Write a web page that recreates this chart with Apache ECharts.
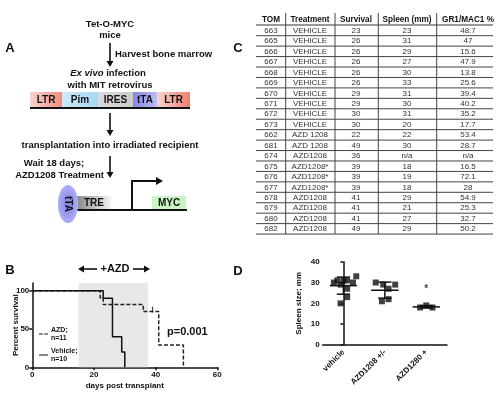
<!DOCTYPE html>
<html>
<head>
<meta charset="utf-8">
<script src="https://cdn.jsdelivr.net/npm/echarts@6/dist/echarts.min.js"></script>
<style>
html, body { margin: 0; padding: 0; background: #fff; }
#main { width: 500px; height: 400px; }
</style>
</head>
<body>
<div id="main"></div>
<script>
// ---- panel C : table ----
var tableHeader = ['TOM', 'Treatment', 'Survival', 'Spleen (mm)', 'GR1/MAC1 %'];
var tomIds = ['663','665','666','667','668','669','670','671','672','673','662','681','674','675','676','677','678','679','680','682'];
var treatments = ['VEHICLE','VEHICLE','VEHICLE','VEHICLE','VEHICLE','VEHICLE','VEHICLE','VEHICLE','VEHICLE','VEHICLE',
  'AZD 1208','AZD 1208','AZD1208','AZD1208*','AZD1208*','AZD1208*','AZD1208','AZD1208','AZD1208','AZD1208'];
var survivalDays = ['23','26','26','26','26','26','29','29','30','30','22','49','36','39','39','39','41','41','41','49'];
var spleenMm = ['23','31','29','27','30','33','31','30','31','20','22','30','n/a','18','19','18','29','21','27','29'];
var gr1Mac1 = ['48.7','47','15.6','47.9','13.8','25.6','39.4','40.2','35.2','17.7','53.4','28.7','n/a','16.5','72.1','28','54.9','25.3','32.7','50.2'];

// ---- panel B : Kaplan-Meier steps [day, percent] ----
var azdSteps = [[0, 100], [22, 90.9], [23, 81.8], [36, 72.7], [41, 29.1], [49, 0]];
var vehicleSteps = [[0, 100], [23, 90], [26, 40], [29, 20], [30, 0]];
var azdCensored = [[39, 72.7]];
var treatWindow = [15, 37.5];
var survivalNames = ['AZD', 'Vehicle'];
var survivalLegend = ['AZD;\nn=11', 'Vehicle;\nn=10'];

// ---- panel D : spleen size ----
var spleenGroups = ['vehicle', 'AZD1208 +/-', 'AZD1280 +'];
var vehicleSpleen = [23, 31, 29, 27, 30, 33, 31, 30, 31, 20];
var partialSpleen = [22, 30, 29, 21, 27, 29];
var fullSpleen = [18, 19, 18];
var vehicleJitter = [0.09, -0.15, -0.07, 0.09, -0.23, 0.31, 0.09, 0.23, 0.0, -0.07];
var partialJitter = [0.09, -0.22, -0.04, -0.07, 0.09, 0.25];
var fullJitter = [-0.15, 0.0, 0.15];
var groupMean = [28.5, 26.3, 18.3];
var groupLow = [24.4, 22.5, 17.8];
var groupHigh = [32.6, 30.2, 18.9];
var sigMarks = [[2, 26.8]];

var FONT = 'Liberation Sans';

function txt(x, y, s, size, opts) {
  opts = opts || {};
  return {
    type: 'text', x: x, y: y, rotation: opts.rotation || 0,
    style: {
      text: s, fontSize: size, fontFamily: FONT,
      fontWeight: opts.weight || 'bold', fill: opts.fill || '#111',
      textAlign: opts.align || 'center', textVerticalAlign: 'middle',
      align: opts.align || 'center', verticalAlign: 'middle',
      rich: opts.rich
    }
  };
}
function downArrow(x, y1, y2) {
  return [
    { type: 'line', shape: { x1: x, y1: y1, x2: x, y2: y2 - 4 }, style: { stroke: '#111', lineWidth: 1.6 } },
    { type: 'polygon', shape: { points: [[x - 3.5, y2 - 6], [x + 3.5, y2 - 6], [x, y2]] }, style: { fill: '#111' } }
  ];
}
function hArrow(x1, x2, y) {
  var d = x2 > x1 ? 1 : -1;
  return [
    { type: 'line', shape: { x1: x1, y1: y, x2: x2 - d * 4, y2: y }, style: { stroke: '#111', lineWidth: 1.6 } },
    { type: 'polygon', shape: { points: [[x2 - d * 6, y - 3.5], [x2 - d * 6, y + 3.5], [x2, y]] }, style: { fill: '#111' } }
  ];
}
function grad(c1, c2) {
  return new echarts.graphic.LinearGradient(0, 0, 1, 0, [{ offset: 0, color: c1 }, { offset: 1, color: c2 }]);
}

var g = [];
// panel letters
g.push(txt(10, 48, 'A', 13));
g.push(txt(238, 48, 'C', 13));
g.push(txt(10, 270, 'B', 13));
g.push(txt(238, 271, 'D', 13));

// panel A diagram
g.push(txt(110, 24, 'Tet-O-MYC', 9.5));
g.push(txt(110, 35, 'mice', 9.5));
g = g.concat(downArrow(110, 43, 67));
g.push(txt(115, 54, 'Harvest bone marrow', 9.5, { align: 'left' }));
g.push(txt(108, 73, '{i|Ex vivo} infection', 9.5, { rich: { i: { fontStyle: 'italic', fontWeight: 'bold', fontSize: 9.5, fontFamily: FONT, fill: '#111' } } }));
g.push(txt(110, 85, 'with MIT retrovirus', 9.5));
var segs = [
  [30, 62, 'LTR', '#f8d4cc', '#ef8f7e'],
  [62, 98, 'Pim', '#cde9f9', '#a6d9f3'],
  [98, 133, 'IRES', '#dadada', '#cbcbcb'],
  [133, 157, 'tTA', '#8686e8', '#bdbdf5'],
  [157, 190, 'LTR', '#f8d4cc', '#ef8070']
];
segs.forEach(function (s) {
  g.push({ type: 'rect', shape: { x: s[0], y: 92, width: s[1] - s[0], height: 15.5 }, style: { fill: grad(s[3], s[4]) } });
  g.push(txt((s[0] + s[1]) / 2, 100, s[2], 10));
});
g.push({ type: 'line', shape: { x1: 30, y1: 108, x2: 190, y2: 108 }, style: { stroke: '#111', lineWidth: 2 } });
g = g.concat(downArrow(110, 113, 136));
g.push(txt(110, 145, 'transplantation into irradiated recipient', 9.5));
g.push(txt(54, 163, 'Wait 18 days;', 9.5));
g.push(txt(59.5, 175, 'AZD1208 Treatment', 9.5));
g = g.concat(downArrow(110, 156, 178));
g.push({ type: 'rect', shape: { x: 77, y: 196, width: 34, height: 13 }, style: { fill: grad('#8a8a8a', '#f4f4f4') } });
g.push(txt(94, 203, 'TRE', 10));
g.push({ type: 'rect', shape: { x: 152, y: 196, width: 34, height: 13 }, style: { fill: '#c9f5c6' } });
g.push(txt(169, 203, 'MYC', 10));
g.push({ type: 'line', shape: { x1: 76, y1: 210, x2: 187, y2: 210 }, style: { stroke: '#111', lineWidth: 2 } });
g.push({ type: 'polyline', shape: { points: [[132, 210], [132, 181], [158, 181]] }, style: { stroke: '#111', lineWidth: 2, fill: null } });
g.push({ type: 'polygon', shape: { points: [[156, 177], [156, 185], [163, 181]] }, style: { fill: '#111' } });
g.push({
  type: 'circle', x: 68, y: 204, scaleX: 0.53, shape: { cx: 0, cy: 0, r: 19 },
  style: { fill: new echarts.graphic.RadialGradient(0.5, 0.5, 0.6, [{ offset: 0, color: '#7e7ee8' }, { offset: 1, color: '#b9b9f6' }]) }
});
g.push(txt(68, 204, 'tTA', 10, { rotation: -Math.PI / 2 }));

// panel C table
var colX = [271, 310, 356, 407, 468];
var colSep = [285.7, 335, 378.3, 436.7];
var row0 = 30.7, rowH = 10.44;
var nRows = tomIds.length;
tableHeader.forEach(function (h, i) { g.push(txt(colX[i], 19.5, h, 8.2)); });
g.push({ type: 'line', shape: { x1: 256, y1: 25, x2: 493, y2: 25 }, style: { stroke: '#333', lineWidth: 1 } });
var cols = [tomIds, treatments, survivalDays, spleenMm, gr1Mac1];
for (var r = 0; r < nRows; r++) {
  var y = row0 + r * rowH;
  cols.forEach(function (c, i) { g.push(txt(colX[i], y, c[r], 8, { weight: 'normal', fill: '#333' })); });
  g.push({ type: 'line', shape: { x1: 256, y1: y + 5, x2: 493, y2: y + 5 }, style: { stroke: '#444', lineWidth: 1 } });
}
colSep.forEach(function (x) {
  g.push({ type: 'line', shape: { x1: x, y1: 13, x2: x, y2: row0 + (nRows - 1) * rowH + 5 }, style: { stroke: '#444', lineWidth: 1 } });
});

// panel B extras
g.push(txt(115, 269, '+AZD', 11));
g = g.concat(hArrow(97, 78, 269));
g = g.concat(hArrow(133, 150, 269));
g.push(txt(167, 332, 'p=0.001', 11, { align: 'left' }));

var axisLbl = { fontSize: 8, fontWeight: 'bold', color: '#111', fontFamily: FONT };
var axisLn = { lineStyle: { color: '#111', width: 1.5 } };
var axisTk = { length: 3, lineStyle: { color: '#111', width: 1.5 } };

var option = {
  animation: false,
  backgroundColor: '#fff',
  textStyle: { fontFamily: FONT },
  graphic: { elements: g },
  legend: {
    orient: 'vertical', left: 34, top: 321, itemWidth: 9, itemHeight: 2, itemGap: 5,
    data: [
      { name: survivalNames[0], icon: 'path://M0,0h4v1h-4zM5.5,0h4v1h-4z' },
      { name: survivalNames[1], icon: 'path://M0,0h9v1h-9z' }
    ],
    formatter: function (n) { return survivalLegend[survivalNames.indexOf(n)]; },
    itemStyle: { color: '#111' },
    textStyle: { fontSize: 7, fontWeight: 'bold', lineHeight: 8, color: '#111', fontFamily: FONT, padding: [0, 0, 0, -2] }
  },
  grid: [
    { left: 32.3, right: 282.7, top: 283, bottom: 32.7 },
    { left: 322.7, right: 53, top: 261.7, bottom: 55 }
  ],
  xAxis: [
    {
      gridIndex: 0, type: 'value', min: 0, max: 60, interval: 20,
      name: 'days post transplant', nameLocation: 'middle', nameGap: 14,
      nameTextStyle: { fontSize: 8, fontWeight: 'bold', color: '#111' },
      axisLine: axisLn, axisTick: axisTk, axisLabel: Object.assign({ margin: 3 }, axisLbl), splitLine: { show: false }
    },
    {
      gridIndex: 1, type: 'category', data: spleenGroups,
      axisLine: axisLn, axisTick: Object.assign({ alignWithLabel: true }, axisTk),
      axisLabel: Object.assign({ rotate: 45, margin: 6, interval: 0, fontSize: 8.5 }, axisLbl)
    },
    { gridIndex: 1, type: 'value', min: -0.5, max: 2.5, show: false, splitLine: { show: false } }
  ],
  yAxis: [
    {
      gridIndex: 0, type: 'value', min: 0, max: 110, interval: 50,
      name: 'Percent survival', nameLocation: 'middle', nameGap: 13, nameMoveOverlap: false,
      nameTextStyle: { fontSize: 8, fontWeight: 'bold', color: '#111' },
      axisLine: { show: true, lineStyle: { color: '#111', width: 1.5 } },
      axisTick: Object.assign({ show: true, customValues: [0, 50, 100] }, axisTk),
      axisLabel: Object.assign({ margin: 3, customValues: [0, 50, 100],
        formatter: function (v) { return v % 50 === 0 ? v : ''; } }, axisLbl),
      splitLine: { show: false }
    },
    {
      gridIndex: 1, type: 'value', min: 0, max: 40, interval: 10,
      name: 'Spleen size; mm', nameLocation: 'middle', nameGap: 20, nameMoveOverlap: false,
      nameTextStyle: { fontSize: 8, fontWeight: 'bold', color: '#111' },
      axisLine: { show: true, lineStyle: { color: '#111', width: 1.5 } },
      axisTick: Object.assign({ show: true }, axisTk),
      axisLabel: Object.assign({ margin: 3 }, axisLbl),
      splitLine: { show: false }
    }
  ],
  series: [
    {
      name: 'AZD', type: 'line', step: 'end', xAxisIndex: 0, yAxisIndex: 0, symbol: 'none',
      data: azdSteps, color: '#222',
      lineStyle: { color: '#222', width: 1.5, type: [4, 2] },
      markArea: {
        silent: true, itemStyle: { color: '#e8e8e8' },
        data: [[{ xAxis: treatWindow[0], yAxis: 0 }, { xAxis: treatWindow[1], yAxis: 110 }]]
      }
    },
    {
      name: 'Vehicle', type: 'line', step: 'end', xAxisIndex: 0, yAxisIndex: 0, symbol: 'none',
      data: vehicleSteps, color: '#111',
      lineStyle: { color: '#111', width: 1.5 }
    },
    {
      name: 'censored', type: 'scatter', xAxisIndex: 0, yAxisIndex: 0,
      data: azdCensored, symbol: 'rect', symbolSize: [1.3, 6], symbolOffset: [0, -2],
      itemStyle: { color: '#222' }
    },
    {
      name: 'spleen', type: 'scatter', xAxisIndex: 2, yAxisIndex: 1,
      symbol: 'rect', symbolSize: 6, itemStyle: { color: '#111' },
      data: vehicleSpleen.map(function (v, i) { return [0 + vehicleJitter[i], v]; })
        .concat(partialSpleen.map(function (v, i) { return [1 + partialJitter[i], v]; }))
        .concat(fullSpleen.map(function (v, i) { return [2 + fullJitter[i], v]; }))
    },
    {
      name: 'meanSd', type: 'custom', xAxisIndex: 1, yAxisIndex: 1, z: 3,
      data: groupMean.map(function (m, i) { return [i, m, groupLow[i], groupHigh[i]]; }),
      renderItem: function (params, api) {
        var i = api.value(0);
        var pm = api.coord([i, api.value(1)]);
        var pl = api.coord([i, api.value(2)]);
        var ph = api.coord([i, api.value(3)]);
        var band = api.size([1, 0])[0];
        var mw = band * 0.33, cw = band * 0.16;
        var st = { stroke: '#111', lineWidth: 1.5 };
        return {
          type: 'group', children: [
            { type: 'line', shape: { x1: pm[0] - mw, y1: pm[1], x2: pm[0] + mw, y2: pm[1] }, style: st },
            { type: 'line', shape: { x1: pl[0], y1: pl[1], x2: ph[0], y2: ph[1] }, style: st },
            { type: 'line', shape: { x1: pl[0] - cw, y1: pl[1], x2: pl[0] + cw, y2: pl[1] }, style: st },
            { type: 'line', shape: { x1: ph[0] - cw, y1: ph[1], x2: ph[0] + cw, y2: ph[1] }, style: st }
          ]
        };
      }
    },
    {
      name: 'sig', type: 'scatter', xAxisIndex: 1, yAxisIndex: 1, symbolSize: 0,
      data: sigMarks,
      label: { show: true, position: 'inside', formatter: '*', fontSize: 10, fontWeight: 'bold', color: '#111' }
    }
  ]
};

var chart = echarts.init(document.getElementById('main'));
chart.setOption(option);
</script>
</body>
</html>
